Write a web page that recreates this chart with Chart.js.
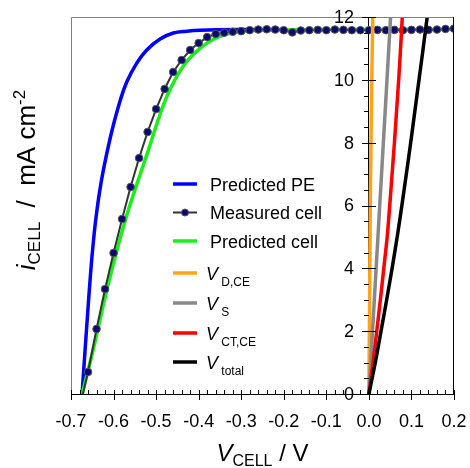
<!DOCTYPE html>
<html>
<head>
<meta charset="utf-8">
<script src="https://cdn.jsdelivr.net/npm/chart.js@4.4.1/dist/chart.umd.min.js"></script>
<style>
  html, body { margin: 0; padding: 0; background: #fff; }
  #wrap { width: 470px; height: 468px; position: relative; }
</style>
</head>
<body>
<div id="wrap"><canvas id="ivChart"></canvas></div>
<script>
// Predicted positive electrode (blue)
const pePotential = [-0.674, -0.6695, -0.6615, -0.6559, -0.6493, -0.6411, -0.6294, -0.6141, -0.6016, -0.5840, -0.5690, -0.5455, -0.5220, -0.4907, -0.4595, -0.4280, -0.397, -0.30, -0.20];
const peCurrent   = [0, 0.89, 2.45, 3.50, 4.58, 5.63, 6.72, 7.77, 8.50, 9.36, 9.93, 10.53, 10.95, 11.30, 11.49, 11.55, 11.58, 11.6, 11.6];

// Predicted cell (green)
const cellPotential = [-0.674, -0.648, -0.612, -0.570, -0.518, -0.498, -0.4751, -0.4516, -0.4281, -0.3969, -0.3656, -0.3342, -0.2951, -0.2559, -0.1, 0.0, 0.1, 0.2];
const cellCurrent   = [0, 1.40, 3.52, 5.64, 7.77, 8.61, 9.46, 10.10, 10.58, 11.0, 11.29, 11.46, 11.55, 11.58, 11.6, 11.6, 11.6, 11.6];

// Measured cell (markers)
const measPotential = [-0.672, -0.66, -0.64, -0.62, -0.60, -0.58, -0.56, -0.54, -0.52, -0.50, -0.48, -0.46, -0.44, -0.42, -0.40, -0.38, -0.36, -0.34, -0.32, -0.30, -0.28, -0.26, -0.24, -0.22, -0.20, -0.18, -0.16, -0.14, -0.12, -0.10, -0.08, -0.06, -0.04, -0.02, 0.00, 0.02, 0.04, 0.06, 0.08, 0.10, 0.12, 0.14, 0.16, 0.18, 0.20];
const measCurrent   = [0, 0.70, 2.07, 3.34, 4.49, 5.57, 6.59, 7.51, 8.34, 9.07, 9.71, 10.25, 10.63, 10.95, 11.17, 11.36, 11.46, 11.50, 11.53, 11.55, 11.58, 11.60, 11.61, 11.60, 11.58, 11.51, 11.57, 11.58, 11.59, 11.58, 11.60, 11.59, 11.58, 11.58, 11.58, 11.59, 11.58, 11.59, 11.58, 11.59, 11.60, 11.59, 11.60, 11.62, 11.63];

// Overpotential contributions vs current
const rightCurrent = [0, 1, 2, 3, 4, 5, 6, 7, 8, 9, 10, 11, 12];
const vDiffCE  = [0, 0.0006, 0.0012, 0.0017, 0.0022, 0.0027, 0.0033, 0.0041, 0.0050, 0.0059, 0.0068, 0.0080, 0.0092];
const vSeries  = [0, 0.0043, 0.0085, 0.0128, 0.0170, 0.0213, 0.0255, 0.0298, 0.0340, 0.0383, 0.0425, 0.0468, 0.0510];
const vCtCE    = [0, 0.0096, 0.0185, 0.0270, 0.0350, 0.0430, 0.0490, 0.0545, 0.0600, 0.0650, 0.0700, 0.0745, 0.0785];
const vTotal   = [0, 0.0150, 0.0285, 0.0418, 0.0545, 0.0665, 0.0775, 0.0880, 0.0982, 0.1080, 0.1178, 0.1275, 0.1370];

const xTicks = [-0.7, -0.6, -0.5, -0.4, -0.3, -0.2, -0.1, 0.0, 0.1, 0.2];
const yTicks = [0, 2, 4, 6, 8, 10, 12];

const FONT = "'Liberation Sans', Arial, Helvetica, sans-serif";

function pts(xs, ys) {
  return xs.map((x, i) => ({ x: x, y: ys[i] }));
}

function lineSet(label, xs, ys, color, order, tension) {
  return {
    label: label,
    data: pts(xs, ys),
    borderColor: color,
    backgroundColor: color,
    borderWidth: 3.5,
    pointRadius: 0,
    fill: false,
    tension: tension,
    order: order
  };
}

const datasets = [
  lineSet('Predicted PE', pePotential, peCurrent, '#0000ff', 7, 0.4),
  {
    label: 'Measured cell',
    data: pts(measPotential, measCurrent),
    borderColor: '#333333',
    borderWidth: 2,
    pointRadius: measPotential.map((v, i) => i === 0 ? 0 : 3.8),
    pointBackgroundColor: '#0a0a6e',
    pointBorderColor: '#555555',
    pointBorderWidth: 1,
    fill: false,
    tension: 0,
    order: 5
  },
  lineSet('Predicted cell', cellPotential, cellCurrent, '#18f018', 6, 0.4),
  lineSet('V_D,CE', vDiffCE, rightCurrent, '#ffa31a', 4, 0.3),
  lineSet('V_S', vSeries, rightCurrent, '#888888', 3, 0),
  lineSet('V_CT,CE', vCtCE, rightCurrent, '#ff0000', 2, 0.3),
  lineSet('V_total', vTotal, rightCurrent, '#000000', 1, 0.3)
];

// text made of pieces: [text, size, italic, baselineShift]
function pieceWidth(ctx, parts) {
  let w = 0;
  parts.forEach(p => {
    ctx.font = (p[2] ? 'italic ' : '') + p[1] + 'px ' + FONT;
    w += ctx.measureText(p[0]).width;
  });
  return w;
}
function drawPieces(ctx, parts, x, y) {
  parts.forEach(p => {
    ctx.font = (p[2] ? 'italic ' : '') + p[1] + 'px ' + FONT;
    ctx.fillText(p[0], x, y + p[3]);
    x += ctx.measureText(p[0]).width;
  });
}

const decorPlugin = {
  id: 'decor',
  afterDatasetsDraw(chart) {
    const ctx = chart.ctx;
    const xs = chart.scales.x;
    const ys = chart.scales.y;
    const a = chart.chartArea;
    const x0 = Math.round(xs.getPixelForValue(0));
    ctx.save();

    // frame
    ctx.lineWidth = 1;
    ctx.strokeStyle = '#808080';
    ctx.beginPath();
    ctx.moveTo(a.left + 0.5, a.bottom + 3);
    ctx.lineTo(a.left + 0.5, a.top + 0.5);
    ctx.lineTo(a.right, a.top + 0.5);
    ctx.stroke();
    ctx.strokeStyle = '#000';
    ctx.beginPath();
    ctx.moveTo(a.right - 0.5, a.top);
    ctx.lineTo(a.right - 0.5, a.bottom);
    ctx.stroke();

    // x tick marks
    ctx.beginPath();
    for (let k = 0; k <= 45; k++) {
      const v = -0.7 + k * 0.02;
      const px = Math.round(xs.getPixelForValue(v)) + 0.5;
      const major = k % 5 === 0;
      ctx.moveTo(px, a.bottom - 4);
      ctx.lineTo(px, a.bottom + (major ? 6 : 0));
    }
    // y tick marks on the axis at V = 0
    for (let k = 0; k <= 24; k++) {
      const v = k * 0.5;
      const py = Math.round(ys.getPixelForValue(v)) + 0.5;
      const major = k % 4 === 0;
      ctx.moveTo(x0 - (major ? 7 : 5), py);
      ctx.lineTo(x0 + (major ? 7 : 0), py);
    }
    ctx.stroke();

    ctx.fillStyle = '#000';
    // y tick labels, left of the axis at V = 0
    ctx.font = '18px ' + FONT;
    ctx.textAlign = 'right';
    ctx.textBaseline = 'middle';
    yTicks.forEach(v => {
      ctx.fillText(String(v), x0 - 15, ys.getPixelForValue(v) + 1);
    });
    ctx.textAlign = 'left';
    ctx.textBaseline = 'alphabetic';

    // axis titles
    const xt = [['V', 24, true, 0], ['CELL', 16, false, 4.5], [' / V', 24, false, 0]];
    const xw = pieceWidth(ctx, xt);
    drawPieces(ctx, xt, (a.left + a.right) / 2 - xw / 2, 461);

    const yt = [['i', 26, true, 0], ['CELL', 17, false, 5], ['  /  mA cm', 26, false, 0], ['-2', 17, false, -10]];
    const yw = pieceWidth(ctx, yt);
    ctx.save();
    ctx.translate(35, 180);
    ctx.rotate(-Math.PI / 2);
    drawPieces(ctx, yt, -yw / 2, 0);
    ctx.restore();

    // legend
    const rows = [184, 212.5, 241, 273, 303, 333, 362];
    chart.data.datasets.forEach((ds, i) => {
      const y = rows[i];
      ctx.strokeStyle = ds.borderColor;
      ctx.lineWidth = i === 1 ? 2 : 3.5;
      ctx.beginPath();
      ctx.moveTo(173, y);
      ctx.lineTo(197, y);
      ctx.stroke();
      if (i === 1) {
        ctx.fillStyle = ds.pointBackgroundColor;
        ctx.strokeStyle = ds.pointBorderColor;
        ctx.lineWidth = 1;
        ctx.beginPath();
        ctx.arc(185, y, 3.5, 0, Math.PI * 2);
        ctx.fill();
        ctx.stroke();
      }
      ctx.fillStyle = '#000';
      const parts = ds.label.split('_');
      if (parts.length === 1) {
        ctx.font = '18px ' + FONT;
        ctx.fillText(parts[0], 210, y + 6.5);
      } else {
        drawPieces(ctx, [[parts[0], 18, true, 0], [' ' + parts[1], 12, false, 6]], 206, y + 6.5);
      }
    });
    ctx.restore();
  }
};

new Chart(document.getElementById('ivChart'), {
  type: 'line',
  data: { datasets: datasets },
  plugins: [decorPlugin],
  options: {
    responsive: true,
    maintainAspectRatio: false,
    animation: false,
    devicePixelRatio: 1,
    layout: { padding: { left: 71, right: 16, top: 17, bottom: 0 } },
    plugins: {
      legend: { display: false },
      tooltip: { enabled: false }
    },
    scales: {
      x: {
        type: 'linear',
        min: -0.7,
        max: 0.2,
        afterFit: (scale) => {
          scale.height = 74;
          scale.paddingLeft = 0;
          scale.paddingRight = 0;
        },
        afterBuildTicks: (scale) => { scale.ticks = xTicks.map(v => ({ value: v })); },
        ticks: {
          padding: 17,
          color: '#000',
          font: { family: FONT, size: 18 },
          maxRotation: 0,
          autoSkip: false,
          callback: (v) => Number(v).toFixed(1)
        },
        grid: { display: true, drawOnChartArea: false, drawTicks: false },
        border: { display: true, color: '#000', width: 1 }
      },
      y: {
        type: 'linear',
        position: { x: 0 },
        min: 0,
        max: 12,
        afterFit: (scale) => { scale.width = 0; },
        ticks: { display: false, stepSize: 2 },
        grid: { display: true, drawOnChartArea: false, drawTicks: false },
        border: { display: true, color: '#000', width: 1 }
      }
    }
  }
});
</script>
</body>
</html>
